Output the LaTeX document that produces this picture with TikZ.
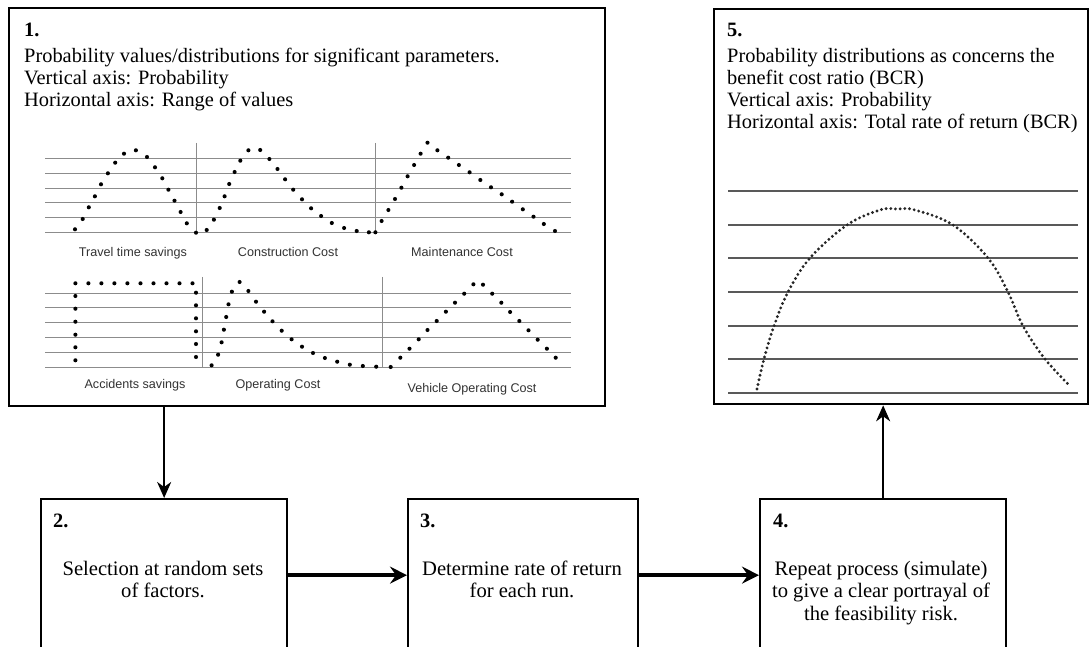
\documentclass[tikz,border=0pt]{standalone}
\usepackage{fontspec}
\setmainfont{Liberation Serif}
\newfontfamily\lblfont{Liberation Sans}
\usetikzlibrary{arrows.meta}
\begin{document}
\begin{tikzpicture}[x=1pt,y=-1pt,
  box/.style={draw=black, line width=2.3pt, fill=white, inner sep=0pt, anchor=north west},
  txt/.style={font=\fontsize{20.4}{22}\selectfont, inner sep=0pt, anchor=base west},
  ctxt/.style={font=\fontsize{20.6}{22}\selectfont, inner sep=0pt, anchor=base},
  head/.style={font=\fontsize{20.4}{22}\selectfont\bfseries, inner sep=0pt, anchor=base west},
  lbl/.style={font=\lblfont\fontsize{12.6}{14}\selectfont, text=black!80, inner sep=0pt, anchor=base},
  gridline/.style={draw=black!45, line width=0.9pt},
  bcrline/.style={draw=black!65, line width=1.2pt},
  vflow/.style={line width=2.2pt, -{Stealth[length=16pt,width=14pt,inset=5pt]}},
  hflow/.style={line width=3.4pt, -{Stealth[length=17pt,width=17pt,inset=6pt]}},
  dotcurve/.style={draw=black!85, line width=3.2pt, line cap=round, dash pattern=on 0pt off 4.7pt},
]
\useasboundingbox (0,0) rectangle (1090,647);
\fill[white] (0,0) rectangle (1090,647);
\clip (0,0) rectangle (1090,647);

% boxes
\node[box, minimum width=596pt, minimum height=398pt] (b1) at (8,7) {};
\node[box, minimum width=374pt, minimum height=395pt] (b5) at (713,8) {};
\node[box, minimum width=246pt, minimum height=152pt] (b2) at (40,498) {};
\node[box, minimum width=230pt, minimum height=152pt] (b3) at (407,498) {};
\node[box, minimum width=246pt, minimum height=152pt] (b4) at (759,498) {};

% box 1 texts
\node[head] (h1) at (24,37) {1.};
\node[txt] (t1a) at (24,63) {Probability values/distributions for significant parameters.};
\node[txt] (t1b) at (24,85) {Vertical axis: Probability};
\node[txt] (t1c) at (24,107) {Horizontal axis: Range of values};

% box 1 grids
\foreach \y in {158,173,188,202,217,232} \draw[gridline] (45,\y) -- (571,\y);
\foreach \x in {196,375} \draw[gridline] (\x,143) -- (\x,232);
\foreach \y in {293,307,322,337,352,367} \draw[gridline] (45,\y) -- (571,\y);
\foreach \x in {202,382} \draw[gridline] (\x,277) -- (\x,367);

% travel time savings
\foreach \p in {(75.0,229.3),(82.7,219),(88.8,207.3),(94.9,196.3),(101,184.3),(107.9,173.3),(115.2,162.7),(124,153.7),(135.9,150.3),(147,157),(155,167.3),(162.3,178.3),(168.4,189.7),(174.5,200.7),(180.6,212),(186.8,223.3),(196,232.7)}
  \fill \p circle[radius=2.05];
% construction cost
\foreach \p in {(206.7,230),(213.9,219.7),(219.7,208),(224.6,196.3),(229.2,184),(234.6,172),(240.3,160.7),(248.4,150.3),(260.2,150),(269.4,159),(277.5,169),(285.1,179.3),(293.2,189.7),(302,199.3),(311.1,208.3),(321.1,216),(331.8,223),(344.1,228),(356.7,231),(368.9,232.3),(375.4,232.3)}
  \fill \p circle[radius=2.05];
% maintenance cost
\foreach \p in {(381.6,221),(388.4,210),(395,199),(401.4,187.7),(407.6,176.3),(414.1,165),(420.6,153.7),(427.5,142.7),(437.4,150.3),(448.2,157.7),(458.9,165),(469.6,172.3),(480.3,180),(491,187.3),(501.7,194.3),(512.1,201.7),(522.8,209.3),(533.5,216.7),(543.8,224),(555,231)}
  \fill \p circle[radius=2.05];
% accidents savings
\foreach \x in {75.4,88.4,101.4,114.4,127.4,140.5,153.5,166.5,179.5,192.5}
  \fill (\x,283.3) circle[radius=2.05];
\foreach \y in {296,308.7,321.7,334.7,347.3,360.3}
  \fill (75.4,\y) circle[radius=2.05];
\foreach \y in {292.7,305.3,318.3,331.3,344,357}
  \fill (196,\y) circle[radius=2.05];
% operating cost
\foreach \p in {(211.6,365.3),(218.1,354.7),(221.6,342.3),(223.9,329.7),(226.2,317),(228.5,304.3),(231.9,291.7),(239.6,282),(248.4,291),(256,301.7),(264.1,311.7),(272.5,321.3),(281.7,330.7),(291.6,339.3),(302,346.7),(313,353),(324.9,358),(337.2,361.7),(349.8,364.7),(362.8,366),(376.2,366.7),(390.7,367)}
  \fill \p circle[radius=2.05];
% vehicle operating cost
\foreach \p in {(400.3,357.7),(409.5,348.7),(418.7,339.3),(427.5,330),(436.7,321),(445.9,311.7),(455,302.7),(464.2,293.7),(473.4,284.3),(483,284.7),(492.2,293.7),(501.3,302.7),(510.1,312),(519.3,321),(528.5,330.3),(537.7,339.7),(546.9,348.7),(555.7,357.7)}
  \fill \p circle[radius=2.05];

% graph labels
\node[lbl] (l1) at (133,257) {Travel time savings};
\node[lbl] (l2) at (288,257) {Construction Cost};
\node[lbl] (l3) at (462,257) {Maintenance Cost};
\node[lbl] (l4) at (135,388) {Accidents savings};
\node[lbl] (l5) at (278,388) {Operating Cost};
\node[lbl] (l6) at (472,392) {Vehicle Operating Cost};

% box 5 texts
\node[head] (h5) at (727,37) {5.};
\node[txt] (t5a) at (727,63) {Probability distributions as concerns the};
\node[txt] (t5b) at (727,85) {benefit cost ratio (BCR)};
\node[txt] (t5c) at (727,107) {Vertical axis: Probability};
\node[txt] (t5d) at (727,129) {Horizontal axis: Total rate of return (BCR)};

% box 5 graph
\foreach \y in {191,225,258,292,326,359,393} \draw[bcrline] (728,\y) -- (1078,\y);
\draw[dotcurve] plot[smooth, tension=0.6] coordinates {(757,389) (764,359) (774,326) (788,292) (810,258) (847,225) (880,210) (897,209) (915,210) (953,225) (988,258) (1008,292) (1023,326) (1045,359) (1070,386)};

% bottom boxes texts
\node[head] (h2) at (53,527) {2.};
\node[ctxt] (t2a) at (163,575) {Selection at random sets};
\node[ctxt] (t2b) at (163,597) {of factors.};
\node[head] (h3) at (420,527) {3.};
\node[ctxt] (t3a) at (522,575) {Determine rate of return};
\node[ctxt] (t3b) at (522,597) {for each run.};
\node[head] (h4) at (773,527) {4.};
\node[ctxt] (t4a) at (881,575) {Repeat process (simulate)};
\node[ctxt] (t4b) at (881,597) {to give a clear portrayal of};
\node[ctxt] (t4c) at (881,620) {the feasibility risk.};

% connectors
\draw[vflow] (b2.north |- b1.south) -- (b2.north);
\draw[hflow] (b2.east) -- (b3.west);
\draw[hflow] (b3.east) -- (b4.west);
\draw[vflow] (b4.north) -- (b4.north |- b5.south);
\end{tikzpicture}
\end{document}
